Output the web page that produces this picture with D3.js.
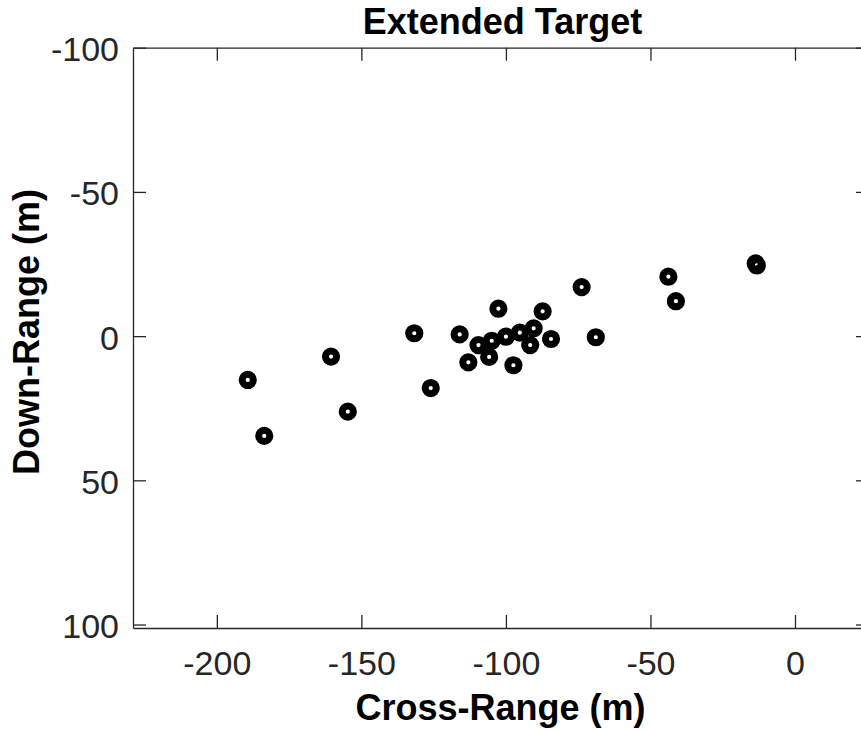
<!DOCTYPE html>
<html>
<head>
<meta charset="utf-8">
<script src="https://cdn.jsdelivr.net/npm/d3@7"></script>
<style>
  html, body { margin: 0; padding: 0; background: #fff; }
  svg { display: block; }
  text { font-family: "Liberation Sans", Arial, Helvetica, sans-serif; }
</style>
</head>
<body>
<svg id="chart" width="861" height="732"></svg>
<script>
// Scatter positions of target returns (metres)
const crossRange = [
  -189.3, -183.6, -160.5, -154.7, -131.7, -126.0, -116.0, -113.0, -109.5, -105.8,
  -104.9, -102.6, -100.0, -97.4, -95.2, -91.6, -90.4, -87.3, -84.4, -73.8,
  -68.9, -43.8, -41.2, -13.6, -13.2
];
const downRange = [
  15.2, 34.6, 7.1, 26.2, -1.0, 18.0, -0.6, 9.1, 3.1, 7.2,
  1.6, -9.5, 0.2, 10.1, -1.2, 3.1, -2.7, -8.6, 1.0, -17.0,
  0.4, -20.6, -12.1, -25.2, -24.5
];
const xTicks = [-200, -150, -100, -50, 0];
const yTicks = [-100, -50, 0, 50, 100];
const xLimits = [-229, 25.6];
const yLimits = [-100, 101.2];

const titleText = "Extended Target";
const xLabelText = "Cross-Range (m)";
const yLabelText = "Down-Range (m)";

const svg = d3.select("#chart");
const box = { left: 133, right: 869, top: 47.7, bottom: 628 };
const axisColor = "#262626";
const tickLen = 13;
const tickFont = 34;
const labelFont = 36;

const x = d3.scaleLinear().domain(xLimits).range([box.left, box.right]);
// Down-range grows downward
const y = d3.scaleLinear().domain(yLimits).range([box.top, box.bottom]);

const fmt = d => String(d);

// Bottom axis with inward ticks
const axisB = svg.append("g")
  .attr("transform", `translate(0,${box.bottom})`)
  .call(d3.axisBottom(x).tickValues(xTicks).tickSizeInner(-tickLen).tickSizeOuter(0).tickFormat(fmt));
// Top axis (ticks only)
const axisT = svg.append("g")
  .attr("transform", `translate(0,${box.top})`)
  .call(d3.axisTop(x).tickValues(xTicks).tickSizeInner(-tickLen).tickSizeOuter(0).tickFormat(""));
// Left axis with inward ticks
const axisL = svg.append("g")
  .attr("transform", `translate(${box.left},0)`)
  .call(d3.axisLeft(y).tickValues(yTicks).tickSizeInner(-tickLen).tickSizeOuter(0).tickFormat(fmt));
// Right axis (ticks only)
const axisR = svg.append("g")
  .attr("transform", `translate(${box.right},0)`)
  .call(d3.axisRight(y).tickValues(yTicks).tickSizeInner(-tickLen).tickSizeOuter(0).tickFormat(""));

[axisB, axisT, axisL, axisR].forEach(g => {
  g.selectAll("path.domain").attr("stroke", axisColor).attr("stroke-width", 1.3);
  g.selectAll(".tick line").attr("stroke", axisColor).attr("stroke-width", 1.3);
  g.selectAll(".tick text")
    .attr("fill", axisColor)
    .attr("font-size", tickFont);
});

axisB.selectAll(".tick text").attr("dy", null).attr("y", 47);
axisL.selectAll(".tick text").attr("dy", null).attr("x", -14).attr("y", 13);

// Markers: open circles with heavy outline
const pts = crossRange.map((cx, i) => ({ cx, dr: downRange[i] }));
svg.append("g")
  .selectAll("circle")
  .data(pts)
  .join("circle")
  .attr("cx", d => x(d.cx))
  .attr("cy", d => y(d.dr))
  .attr("r", 5.6)
  .attr("fill", "none")
  .attr("stroke", "#000")
  .attr("stroke-width", 7);

// Title and axis labels
svg.append("text")
  .attr("x", (box.left + 860) / 2 + 6)
  .attr("y", 34)
  .attr("text-anchor", "middle")
  .attr("font-size", labelFont)
  .attr("font-weight", "bold")
  .attr("fill", "#000")
  .text(titleText);

svg.append("text")
  .attr("x", (box.left + 860) / 2 + 4)
  .attr("y", 720)
  .attr("text-anchor", "middle")
  .attr("font-size", labelFont)
  .attr("font-weight", "bold")
  .attr("fill", "#000")
  .text(xLabelText);

svg.append("text")
  .attr("transform", `translate(39,332) rotate(-90)`)
  .attr("text-anchor", "middle")
  .attr("font-size", labelFont)
  .attr("font-weight", "bold")
  .attr("fill", "#000")
  .text(yLabelText);
</script>
</body>
</html>
